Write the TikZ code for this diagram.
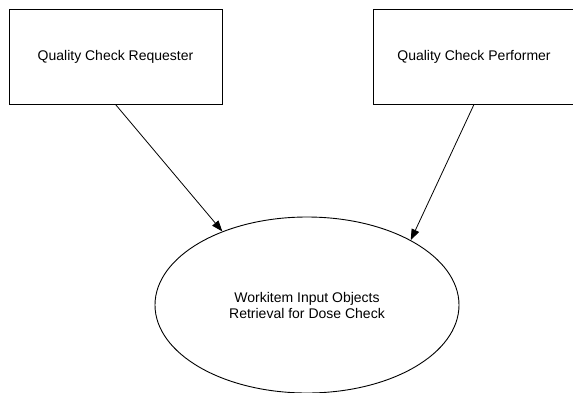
\documentclass[tikz,border=0pt]{standalone}
\usepackage{fontspec}
\setmainfont{Liberation Sans}
\usetikzlibrary{shapes.geometric,arrows.meta}
\begin{document}
\begin{tikzpicture}[x=1pt,y=-1pt,
  actorbox/.style={draw=black,line width=0.9pt,minimum width=213pt,minimum height=95pt,inner sep=0pt,
    font=\fontsize{14}{16}\selectfont},
  usecase/.style={draw=black,line width=0.9pt,ellipse,minimum width=304pt,minimum height=176pt,inner sep=0pt,
    align=center,font=\fontsize{14}{16}\selectfont},
  flow/.style={draw=black,line width=0.8pt,-{Triangle[length=11pt,width=8pt]}}]
  \useasboundingbox (0,0) rectangle (573,392);
  \node[actorbox] (req) at (115.5,56.5) {\raisebox{-6pt}{Quality Check Requester}};
  \node[actorbox,minimum width=202pt] (perf) at (474,56.5) {\raisebox{-6pt}{Quality Check Performer}};
  \node[usecase] (uc) at (307,305) {\raisebox{-5pt}{\parbox{200pt}{\centering Workitem Input Objects\\Retrieval for Dose Check}}};
  \draw[flow] (req.south) -- (uc.139.7);
  \draw[flow] (perf.south) -- (uc.32.5);
\end{tikzpicture}
\end{document}
